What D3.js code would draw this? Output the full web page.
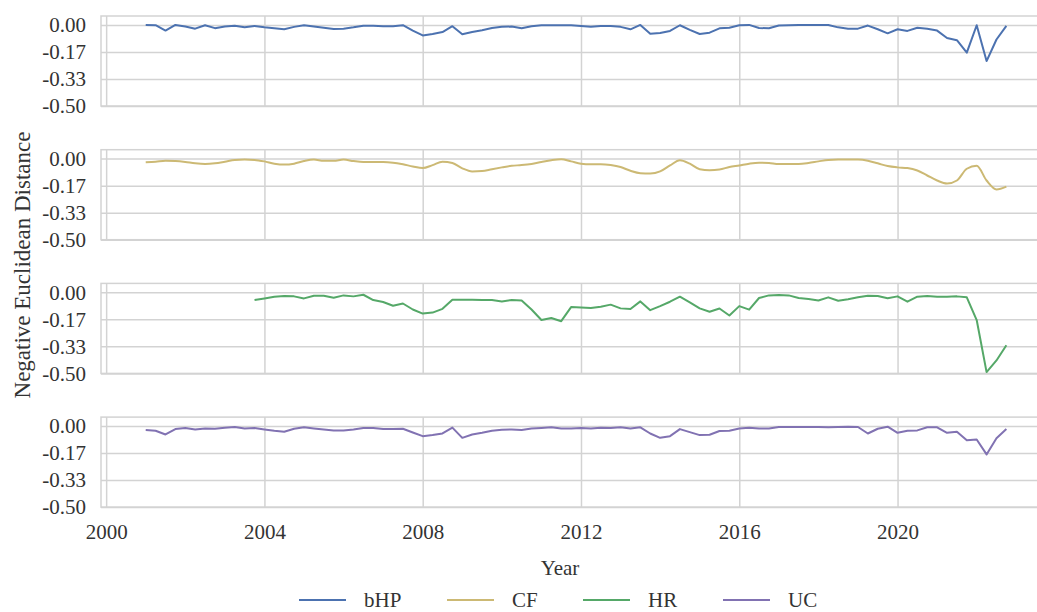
<!DOCTYPE html>
<html>
<head>
<meta charset="utf-8">
<script src="https://cdn.jsdelivr.net/npm/d3@7"></script>
<style>
  html, body { margin: 0; padding: 0; background: #fff; }
  svg { display: block; }
  text { font-family: "Liberation Serif", "Times New Roman", serif; fill: #333; }
</style>
</head>
<body>
<svg id="chart" width="1037" height="612"></svg>
<script>
// ---------------- data ----------------
const seriesNames = ["bHP", "CF", "HR", "UC"];
const seriesColors = ["#4c72b0", "#ccb974", "#55a868", "#8172b2"];
const seriesStart = [2001, 2001, 2003.75, 2001];   // first quarter of each series
const quarterStep = 0.25;

const bHP = [
  0, -0.002, -0.035, 0,
  -0.01, -0.023, -0.002, -0.02,
  -0.01, -0.005, -0.015, -0.006,
  -0.015, -0.02, -0.027, -0.012,
  -0.002, -0.01, -0.017, -0.025,
  -0.023, -0.015, -0.005, -0.005,
  -0.008, -0.008, -0.002, -0.035,
  -0.065, -0.056, -0.044, -0.008,
  -0.058, -0.044, -0.033, -0.019,
  -0.012, -0.01, -0.02, -0.008,
  -0.002, -0.002, -0.002, -0.002,
  -0.006, -0.012, -0.006, -0.006,
  -0.012, -0.027, 0.0, -0.054,
  -0.05, -0.037, -0.002, -0.031,
  -0.056, -0.048, -0.021, -0.017,
  -0.002, 0.0, -0.019, -0.021,
  -0.004, -0.002, 0.0, 0.0,
  0.0, 0.0, -0.015, -0.023,
  -0.023, -0.004, -0.027, -0.052,
  -0.027, -0.037, -0.017, -0.023,
  -0.035, -0.081, -0.094, -0.171,
  -0.002, -0.223, -0.09, -0.006
];
const CF = [
  -0.023, -0.019, -0.0125, -0.015,
  -0.021, -0.029, -0.033, -0.029,
  -0.019, -0.008, -0.006, -0.008,
  -0.017, -0.031, -0.037, -0.031,
  -0.015, -0.006, -0.013, -0.013,
  -0.006, -0.015, -0.021, -0.021,
  -0.021, -0.025, -0.035, -0.048,
  -0.058, -0.04, -0.019, -0.027,
  -0.06, -0.079, -0.077, -0.065,
  -0.054, -0.044, -0.04, -0.033,
  -0.021, -0.01, -0.004, -0.017,
  -0.031, -0.035, -0.035, -0.04,
  -0.052, -0.075, -0.09, -0.092,
  -0.079, -0.042, -0.01, -0.031,
  -0.065, -0.071, -0.067, -0.052,
  -0.042, -0.031, -0.025, -0.027,
  -0.033, -0.033, -0.033, -0.027,
  -0.017, -0.008, -0.006, -0.006,
  -0.006, -0.0125, -0.029, -0.046,
  -0.054, -0.058, -0.073, -0.104,
  -0.135, -0.154, -0.135, -0.0625,
  -0.044, -0.135, -0.19, -0.173
];
const HR = [
  -0.048,
  -0.0375, -0.027, -0.023, -0.025,
  -0.0375, -0.021, -0.021, -0.033,
  -0.019, -0.025, -0.015, -0.048,
  -0.06, -0.083, -0.069, -0.106,
  -0.131, -0.125, -0.102, -0.046,
  -0.046, -0.046, -0.048, -0.048,
  -0.056, -0.048, -0.05, -0.106,
  -0.171, -0.158, -0.178, -0.091,
  -0.093, -0.097, -0.089, -0.076,
  -0.099, -0.103, -0.056, -0.11,
  -0.085, -0.058, -0.027, -0.062,
  -0.099, -0.12, -0.1, -0.143,
  -0.085, -0.107, -0.035, -0.019,
  -0.017, -0.019, -0.035, -0.041,
  -0.05, -0.031, -0.052, -0.043,
  -0.031, -0.021, -0.023, -0.037,
  -0.025, -0.058, -0.027, -0.023,
  -0.027, -0.027, -0.025, -0.031,
  -0.171, -0.492, -0.42, -0.326
];
const UC = [
  -0.025, -0.029, -0.052, -0.019,
  -0.0125, -0.021, -0.015, -0.017,
  -0.010, -0.006, -0.015, -0.0125,
  -0.021, -0.029, -0.035, -0.017,
  -0.008, -0.015, -0.021, -0.027,
  -0.027, -0.021, -0.0125, -0.0125,
  -0.019, -0.019, -0.017, -0.04,
  -0.0625, -0.056, -0.046, -0.01,
  -0.073, -0.052, -0.042, -0.029,
  -0.023, -0.021, -0.025, -0.015,
  -0.012, -0.008, -0.015, -0.015,
  -0.0125, -0.015, -0.01, -0.0125,
  -0.008, -0.015, -0.008, -0.046,
  -0.073, -0.0625, -0.019, -0.0375,
  -0.056, -0.054, -0.031, -0.029,
  -0.015, -0.01, -0.015, -0.015,
  -0.006, -0.006, -0.006, -0.006,
  -0.006, -0.008, -0.006, -0.004,
  -0.006, -0.046, -0.017, -0.004,
  -0.042, -0.029, -0.027, -0.008,
  -0.008, -0.042, -0.035, -0.0875,
  -0.083, -0.175, -0.075, -0.019
];
const seriesValues = [bHP, CF, HR, UC];

const yTicks = [0, -1/6, -1/3, -0.5];
const yTickLabels = ["0.00", "-0.17", "-0.33", "-0.50"];
const xTicks = [2000, 2004, 2008, 2012, 2016, 2020];
const xTickLabels = ["2000", "2004", "2008", "2012", "2016", "2020"];
const yTitle = "Negative Euclidean Distance";
const xTitle = "Year";

// ---------------- layout ----------------
const svg = d3.select("#chart");
const left = 101, right = 1040;
const panelH = 90, panelTop0 = 16, panelStep = 133.7;
const gridColor = "#d3d3d3";
const fontSize = 21;
const serif = "'Liberation Serif', 'Times New Roman', serif";

const x = d3.scaleLinear().domain([1999.87, 2023.6]).range([left, right]);

seriesNames.forEach((name, i) => {
  const top = panelTop0 + i * panelStep;
  const y = d3.scaleLinear().domain([-0.5, 0.055]).range([top + panelH, top]);
  const g = svg.append("g");

  // frame
  g.append("rect")
    .attr("x", left).attr("y", top)
    .attr("width", right - left).attr("height", panelH)
    .attr("fill", "none").attr("stroke", gridColor).attr("stroke-width", 1.5);

  // vertical grid (x axis)
  const xa = g.append("g")
    .attr("transform", `translate(0,${top + panelH})`)
    .call(d3.axisBottom(x).tickValues(xTicks)
      .tickFormat((d, k) => i === seriesNames.length - 1 ? xTickLabels[k] : "")
      .tickSize(-panelH).tickPadding(0));
  xa.select(".domain").remove();
  xa.selectAll("line").attr("stroke", gridColor).attr("stroke-width", 1.5);
  xa.selectAll("text")
    .attr("y", 25).attr("dy", "0.35em")
    .style("font-size", fontSize + "px")
    .style("font-family", serif)
    .attr("fill", "#333");

  // horizontal grid + labels (y axis)
  const ya = g.append("g")
    .attr("transform", `translate(${left},0)`)
    .call(d3.axisLeft(y).tickValues(yTicks)
      .tickFormat((d, k) => yTickLabels[k])
      .tickSize(-(right - left)).tickPadding(15));
  ya.select(".domain").remove();
  ya.selectAll("line").attr("stroke", gridColor).attr("stroke-width", 1.5);
  ya.selectAll("text")
    .style("font-size", fontSize + "px")
    .style("font-family", serif)
    .attr("fill", "#333");

  // series line
  const vals = seriesValues[i];
  const pts = vals.map((v, k) => [seriesStart[i] + k * quarterStep, v]);
  const line = d3.line()
    .x(d => x(d[0])).y(d => y(d[1]))
    .curve(name === "CF" ? d3.curveMonotoneX : d3.curveLinear);
  g.append("path")
    .datum(pts)
    .attr("d", line)
    .attr("fill", "none")
    .attr("stroke", seriesColors[i])
    .attr("stroke-width", 2)
    .attr("stroke-linejoin", "round");
});

// axis titles
svg.append("text")
  .attr("x", 560).attr("y", 568).attr("dy", "0.35em")
  .attr("text-anchor", "middle")
  .style("font-size", fontSize + "px")
  .text(xTitle);

svg.append("text")
  .attr("transform", "translate(22,265) rotate(-90)")
  .attr("dy", "0.35em")
  .attr("text-anchor", "middle")
  .style("font-size", "23px")
  .text(yTitle);

// legend
const legendX = [299, 447, 583, 723];
const legendY = 600;
seriesNames.forEach((name, i) => {
  const lg = svg.append("g").attr("transform", `translate(${legendX[i]},${legendY})`);
  lg.append("line").attr("x1", 0).attr("x2", 47).attr("y1", 0).attr("y2", 0)
    .attr("stroke", seriesColors[i]).attr("stroke-width", 2);
  lg.append("text").attr("x", 65).attr("y", 0).attr("dy", "0.35em")
    .style("font-size", fontSize + "px").text(name);
});
</script>
</body>
</html>
